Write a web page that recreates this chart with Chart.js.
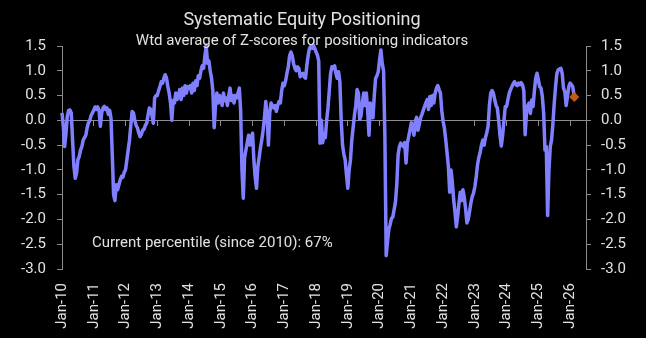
<!DOCTYPE html>
<html>
<head>
<meta charset="utf-8">
<script src="https://cdn.jsdelivr.net/npm/chart.js@4/dist/chart.umd.min.js"></script>
<style>
  html, body { margin: 0; padding: 0; background: #000; }
  canvas { display: block; }
</style>
</head>
<body>
<canvas id="chart" width="646" height="338"></canvas>
<script>
// Weighted average of positioning Z-scores, two readings per month (start 2010)
const seriesStart = 2010;
const stepsPerYear = 24;
const z2010 = [0.15,-0.12,-0.53,-0.26,0.08,0.2,0.21,0.15,-0.4,-0.93,-1.17,-1.07,-0.8,-0.73,-0.6,-0.53,-0.4,-0.35,-0.3,-0.15,-0.05,0.0,0.1,0.15];
const z2011 = [0.2,0.27,0.22,0.27,0.2,-0.12,0.15,0.25,0.28,0.22,0.25,0.12,0.2,0.05,-0.7,-1.5,-1.62,-1.3,-1.4,-1.3,-1.2,-1.13,-1.15,-1.05];
const z2012 = [-1.0,-0.8,-0.6,-0.4,-0.1,0.18,0.15,0.0,-0.1,-0.15,-0.25,-0.33,-0.28,-0.2,-0.18,-0.1,-0.06,0.1,0.25,0.22,0.1,-0.06,0.45,0.5];
const z2013 = [0.5,0.6,0.68,0.78,0.75,0.85,0.92,0.85,0.68,0.55,0.35,0.0,0.4,0.35,0.55,0.42,0.5,0.62,0.42,0.65,0.5,0.7,0.55,0.68];
const z2014 = [0.65,0.7,0.55,0.75,0.6,0.8,0.7,0.9,0.85,1.0,1.1,1.05,1.3,1.5,1.15,1.2,1.0,0.85,0.6,-0.15,0.3,0.55,0.35,0.5];
const z2015 = [0.45,0.3,0.55,0.4,0.45,0.3,0.5,0.65,0.4,0.5,0.35,0.5,0.45,0.55,0.65,0.2,-1.0,-1.57,-0.75,-0.6,-0.45,-0.3,-0.5,-0.35];
const z2016 = [-0.26,-0.8,-1.15,-1.37,-0.93,-0.75,-0.55,-0.39,-0.2,0.05,0.38,0.1,-0.5,0.15,0.35,0.3,0.25,0.3,0.18,0.3,0.38,0.35,0.6,0.75];
const z2017 = [0.7,0.8,0.95,1.08,1.3,1.38,1.3,1.15,1.05,1.0,1.08,1.05,0.88,0.92,0.95,0.88,0.85,1.1,1.3,1.45,1.5,1.45,1.52,1.45];
const z2018 = [1.38,1.32,1.2,-0.46,0.0,-0.45,-0.28,-0.35,0.0,0.25,0.6,0.95,1.08,1.05,1.1,0.95,0.85,0.98,0.78,0.0,-0.5,-0.68,-0.8,-1.1];
const z2019 = [-1.37,-1.0,-0.8,-0.4,-0.15,0.1,0.3,0.62,0.55,0.02,0.1,0.35,0.55,0.3,0.55,0.2,-0.3,0.35,0.2,0.05,0.5,0.85,0.9,0.98];
const z2020 = [1.22,1.42,1.15,1.0,-0.3,-2.73,-2.45,-2.2,-2.1,-1.98,-1.95,-1.8,-1.65,-1.3,-0.7,-0.53,-0.46,-0.5,-0.53,-0.45,-0.86,-0.46,-0.33,-0.19];
const z2021 = [-0.05,-0.15,-0.3,-0.02,0.06,-0.2,-0.08,0.05,0.12,0.2,0.28,0.35,0.42,0.22,0.48,0.3,0.5,0.35,0.55,0.65,0.7,0.62,0.55,0.2];
const z2022 = [-0.02,-0.16,-0.39,-0.66,-0.93,-1.45,-1.0,-1.25,-1.6,-1.85,-2.15,-1.94,-1.67,-1.45,-1.62,-1.4,-1.55,-1.78,-2.07,-2.0,-1.84,-1.67,-1.54,-1.47];
const z2023 = [-1.34,-1.15,-0.9,-0.75,-0.65,-0.5,-0.4,-0.5,-0.35,-0.25,-0.12,0.3,0.55,0.6,0.55,0.42,0.3,0.25,0.0,-0.3,-0.52,-0.3,0.0,0.28];
const z2024 = [0.28,0.42,0.55,0.62,0.68,0.74,0.78,0.72,0.7,0.75,0.72,0.76,0.72,0.6,-0.29,0.14,0.3,0.35,0.14,0.41,0.28,0.6,0.85,0.95];
const z2025 = [0.82,0.68,0.65,0.48,0.14,-0.6,-0.53,-1.92,-1.0,-0.53,-0.39,-0.06,0.35,0.68,0.95,1.02,1.04,1.05,0.95,0.65,0.58,0.3,0.48,0.68];
const z2026 = [0.75,0.72,0.68,0.5];

// Latest estimate (diamond marker)
const latestDate = 2026.13;
const latestValue = 0.47;
const currentPercentile = 67;

// Axis ticks
const tickYears = [2010,2011,2012,2013,2014,2015,2016,2017,2018,2019,2020,2021,2022,2023,2024,2025,2026];
const tickLabels = ['Jan-10','Jan-11','Jan-12','Jan-13','Jan-14','Jan-15','Jan-16','Jan-17','Jan-18','Jan-19','Jan-20','Jan-21','Jan-22','Jan-23','Jan-24','Jan-25','Jan-26'];
const yTicks = [1.5,1.0,0.5,0.0,-0.5,-1.0,-1.5,-2.0,-2.5,-3.0];
const xMin = 2010, xMax = 2026.5;

const chartTitle = 'Systematic Equity Positioning';
const chartSubtitle = 'Wtd average of Z-scores for positioning indicators';
const noteText = 'Current percentile (since 2010): ' + currentPercentile + '%';

const zscore = [].concat(z2010, z2011, z2012, z2013, z2014, z2015, z2016, z2017,
  z2018, z2019, z2020, z2021, z2022, z2023, z2024, z2025, z2026);
const linePoints = zscore.map((v, i) => ({ x: seriesStart + i / stepsPerYear, y: v }));

const textColor = '#e2e2e2';
const axisColor = '#8c8c8c';
const fontFamily = 'Roboto, "Liberation Sans", Arial, sans-serif';

Chart.defaults.font.family = fontFamily;
Chart.defaults.font.size = 15;
Chart.defaults.color = textColor;

const headerText = {
  id: 'headerText',
  afterDraw(chart) {
    const { ctx, chartArea } = chart;
    ctx.save();
    ctx.fillStyle = textColor;
    ctx.textBaseline = 'alphabetic';
    ctx.textAlign = 'center';
    ctx.font = '18px ' + fontFamily;
    ctx.fillText(chartTitle, 302, 25);
    ctx.font = '15px ' + fontFamily;
    ctx.fillText(chartSubtitle, 302, 45);
    ctx.textAlign = 'left';
    ctx.fillText(noteText, chartArea.left + 30, 247);
    ctx.restore();
  }
};

const setYTicks = scale => { scale.ticks = yTicks.map(v => ({ value: v })); };
const setXTicks = scale => { scale.ticks = tickYears.map(v => ({ value: v })); };
const yLabel = v => (Math.abs(v) < 1e-9 ? 0 : v).toFixed(1);

new Chart(document.getElementById('chart'), {
  type: 'line',
  data: {
    datasets: [
      {
        data: linePoints,
        xAxisID: 'x',
        yAxisID: 'y',
        borderColor: '#8080ff',
        borderWidth: 3.5,
        pointRadius: 0,
        tension: 0,
        borderJoinStyle: 'round',
        clip: 4,
        order: 2
      },
      {
        data: [{ x: latestDate, y: latestValue }],
        xAxisID: 'x',
        yAxisID: 'y',
        showLine: false,
        pointStyle: 'rectRot',
        pointRadius: 4.5,
        pointBackgroundColor: '#c55a11',
        pointBorderColor: '#c55a11',
        pointBorderWidth: 1,
        order: 1
      }
    ]
  },
  options: {
    responsive: false,
    animation: false,
    devicePixelRatio: 1,
    layout: { padding: { top: 46, left: 0, right: 0, bottom: 0 } },
    plugins: { legend: { display: false }, tooltip: { enabled: false }, title: { display: false } },
    scales: {
      x: {
        type: 'linear',
        position: { y: 0 },
        min: xMin,
        max: xMax,
        afterBuildTicks: setXTicks,
        border: { display: true, color: axisColor, width: 1 },
        grid: { display: true, drawOnChartArea: false, drawTicks: true, tickLength: 5, color: axisColor },
        ticks: { display: false }
      },
      xLabels: {
        type: 'linear',
        position: 'bottom',
        min: xMin,
        max: xMax,
        afterBuildTicks: setXTicks,
        afterFit: s => { s.height = 69; },
        border: { display: false },
        grid: { display: false, drawTicks: false },
        ticks: {
          minRotation: 90,
          maxRotation: 90,
          autoSkip: false,
          padding: 14,
          color: textColor,
          font: { size: 15 },
          callback: (v, i) => tickLabels[i]
        }
      },
      y: {
        type: 'linear',
        position: 'left',
        min: -3,
        max: 1.5,
        afterBuildTicks: setYTicks,
        afterFit: s => { s.width = 62; },
        border: { display: true, color: axisColor, width: 1 },
        grid: { display: true, drawOnChartArea: false, drawTicks: true, tickLength: 5, color: axisColor },
        ticks: { padding: 11, color: textColor, font: { size: 15 }, callback: yLabel }
      },
      y2: {
        type: 'linear',
        position: 'right',
        min: -3,
        max: 1.5,
        afterBuildTicks: setYTicks,
        afterFit: s => { s.width = 60; },
        border: { display: true, color: axisColor, width: 1 },
        grid: { display: true, drawOnChartArea: false, drawTicks: true, tickLength: 5, color: axisColor },
        ticks: { padding: 10, color: textColor, font: { size: 15 }, callback: yLabel }
      }
    }
  },
  plugins: [headerText]
});
</script>
</body>
</html>
